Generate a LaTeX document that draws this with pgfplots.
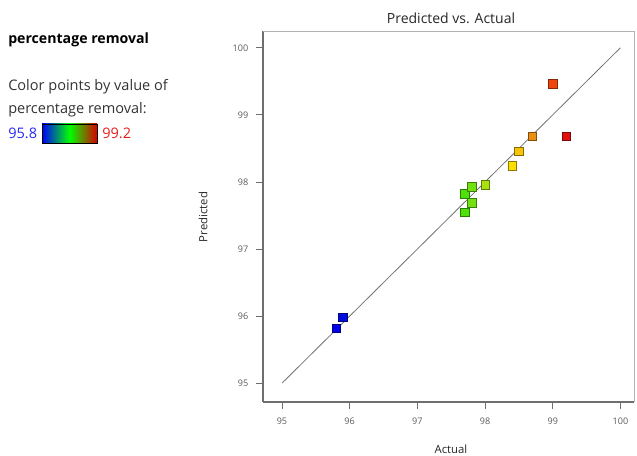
\documentclass[border=0pt]{standalone}
\usepackage{pgfplots}
\pgfplotsset{compat=1.18}
\usepackage{fontspec}
\setmainfont{Open Sans}
\definecolor{tickgray}{RGB}{90,90,90}
\definecolor{axgray}{RGB}{110,110,110}
\definecolor{lblue}{RGB}{40,40,240}
\definecolor{lred}{RGB}{230,30,30}
\begin{document}
\begin{tikzpicture}[x=0.75pt,y=0.75pt]
\useasboundingbox (0,0) rectangle (637,456);
\begin{axis}[
  at={(197.25pt,40.5pt)}, anchor=south west,
  scale only axis, width=278.25pt, height=278.25pt,
  xmin=94.72, xmax=100.2, ymin=94.72, ymax=100.25,
  xtick={95,96,97,98,99,100}, ytick={95,96,97,98,99,100},
  tick align=outside, major tick length=5pt,
  axis x line*=bottom, axis y line*=left,
  axis line style={axgray, line width=1pt},
  tick style={axgray, line width=0.6pt},
  ticklabel style={font=\fontsize{6.8}{7}\selectfont, text=tickgray},
  /pgf/number format/assume math mode=true,
  xticklabel style={yshift=-3.5pt},
  yticklabel style={xshift=-2.5pt},
  colormap={dx}{rgb255(0)=(0,0,235) rgb255(5)=(10,225,0) rgb255(6.2)=(150,225,20) rgb255(7.6)=(255,225,0) rgb255(8.5)=(235,145,20) rgb255(9.4)=(240,70,15) rgb255(10)=(225,15,15)},
  point meta min=95.8, point meta max=99.2,
  clip=false,
]
\draw[gray!60, line width=0.5pt] (axis cs:94.72,100.25) -- (axis cs:100.2,100.25) -- (axis cs:100.2,94.72);
\addplot[gray!90!black, line width=0.6pt] coordinates {(95,95) (100,100)};
\addplot[scatter, only marks, mark=square*, mark size=3.2pt,
  scatter/use mapped color={draw=mapped color!55!black, fill=mapped color},
  point meta=x] coordinates {
  (95.8,95.82) (95.9,95.98) (97.7,97.55) (97.8,97.69) (97.7,97.82)
  (97.8,97.93) (98.0,97.96) (98.4,98.24) (98.5,98.46) (98.7,98.68)
  (99.0,99.46) (99.2,98.68)
};
\end{axis}
\node[font=\fontsize{10.5}{12}\selectfont, text=black!85] at (451,438) {Predicted vs. Actual};
\node[font=\fontsize{8.5}{10}\selectfont, text=black!85] at (451,7) {Actual};
\node[font=\fontsize{8.5}{10}\selectfont, text=black!85, rotate=90] at (203,239) {Predicted};
\node[anchor=west, inner sep=0pt] at (8,416) {\fontsize{10.6}{12}\selectfont\textbf{percentage removal}};
\node[anchor=west, font=\fontsize{10.9}{12}\selectfont, text=black!80, inner sep=0pt] at (8,369) {Color points by value of};
\node[anchor=west, font=\fontsize{10.9}{12}\selectfont, text=black!80, inner sep=0pt] at (8,346) {percentage removal:};
\node[anchor=west, font=\fontsize{10.9}{12}\selectfont, text=lblue, inner sep=0pt] at (8,323) {95.8};
\shade[left color=blue, right color=red!85!black, middle color=green] (42,313) rectangle (97,332);
\draw[black, line width=0.6pt] (42,313) rectangle (97,332);
\node[anchor=west, font=\fontsize{10.9}{12}\selectfont, text=lred, inner sep=0pt] at (102,323) {99.2};
\end{tikzpicture}
\end{document}
